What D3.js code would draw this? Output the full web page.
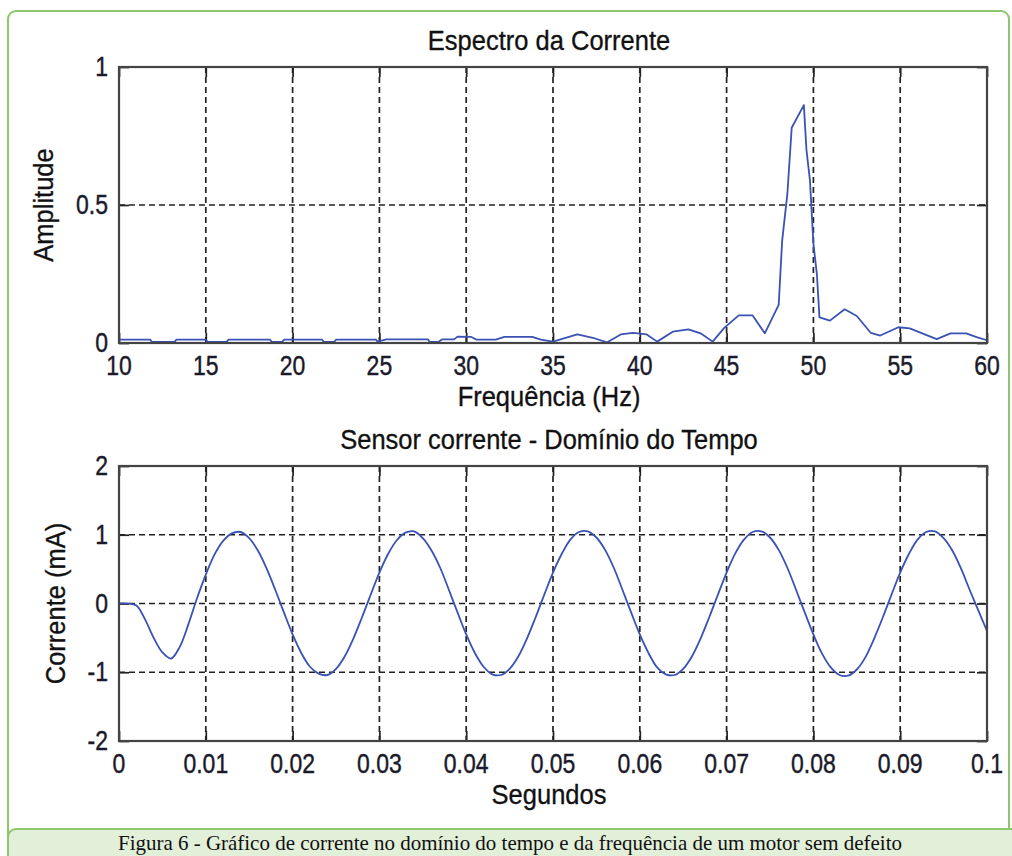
<!DOCTYPE html>
<html lang="pt">
<head>
<meta charset="utf-8">
<title>Espectro da Corrente</title>
<script src="https://cdnjs.cloudflare.com/ajax/libs/d3/7.8.5/d3.min.js"></script>
<style>
  html, body { margin: 0; padding: 0; background: #fff; }
  svg { display: block; }
  .tick-label { font-family: "Liberation Sans", Arial, sans-serif; font-size: 23px; fill: #1a1a2a; stroke: #1a1a2a; stroke-width: 0.35; }
  .lbl { font-family: "Liberation Sans", Arial, sans-serif; font-size: 25.5px; fill: #111; stroke: #111; stroke-width: 0.3; }
  .caption { font-family: "Liberation Serif", "Times New Roman", serif; font-size: 22px; fill: #111; }
  .grid line { stroke: #222; stroke-width: 1.7; stroke-dasharray: 6,4; }
</style>
</head>
<body>
<div id="chart"></div>
<script>
// --- spectrum (top) ---
const specFreq = [10, 10.2, 11.8, 11.9, 13.2, 13.3, 15.0, 15.1, 16.2, 16.3, 18.7, 18.8, 19.4, 19.5,
  21.7, 21.8, 22.4, 22.5, 24.8, 24.9, 25.4, 27.8, 27.9, 28.4, 28.6, 29.3, 29.5, 30.3, 30.6, 31.7,
  32.2, 33.8, 34.3, 35.0, 36.4, 37.3, 38.1, 38.9, 39.6, 40.4, 41.0, 41.9, 42.8, 43.5, 44.2, 44.85,
  45.7, 46.5, 47.2, 48.0, 48.2, 48.5, 48.75, 49.45, 49.6, 49.8, 50.0, 50.2, 50.35, 50.95, 51.8,
  52.5, 53.3, 53.85, 54.9, 55.55, 57.1, 57.9, 58.8, 59.4, 60];
const specAmp = [0.012, 0.012, 0.012, 0.004, 0.004, 0.012, 0.012, 0.004, 0.004, 0.012, 0.012, 0.004, 0.004, 0.012,
  0.012, 0.004, 0.004, 0.012, 0.012, 0.005, 0.013, 0.013, 0.004, 0.004, 0.013, 0.013, 0.023, 0.022, 0.012, 0.012,
  0.022, 0.022, 0.012, 0.005, 0.031, 0.019, 0.002, 0.031, 0.037, 0.031, 0.005, 0.041, 0.049, 0.035, 0.005, 0.054,
  0.10, 0.10, 0.035, 0.138, 0.37, 0.54, 0.78, 0.862, 0.70, 0.59, 0.36, 0.25, 0.093, 0.081, 0.122,
  0.098, 0.037, 0.027, 0.057, 0.053, 0.014, 0.035, 0.035, 0.021, 0.01];
const freqTicks = [10, 15, 20, 25, 30, 35, 40, 45, 50, 55, 60];
const ampTicks = [0, 0.5, 1];
const ampTickLabels = ["0", "0.5", "1"];

// --- time domain (bottom), one sample per ms ---
const timeSec = d3.range(0, 101).map(i => i / 1000);
const currentMA = [
  0, 0, -0.03, -0.23, -0.50, -0.71, -0.80, -0.63, -0.30, 0.08,
  0.42, 0.71, 0.91, 1.02, 1.04, 0.95, 0.77, 0.51, 0.20, -0.13,
  -0.45, -0.72, -0.92, -1.02, -1.04, -0.95, -0.77, -0.51, -0.20, 0.13,
  0.45, 0.72, 0.92, 1.03, 1.05, 0.95, 0.77, 0.52, 0.20, -0.13,
  -0.45, -0.72, -0.92, -1.03, -1.04, -0.95, -0.77, -0.51, -0.20, 0.13,
  0.45, 0.72, 0.93, 1.04, 1.05, 0.96, 0.78, 0.52, 0.20, -0.13,
  -0.45, -0.72, -0.93, -1.03, -1.04, -0.95, -0.77, -0.51, -0.20, 0.13,
  0.45, 0.73, 0.93, 1.04, 1.05, 0.96, 0.78, 0.52, 0.20, -0.13,
  -0.45, -0.73, -0.93, -1.04, -1.05, -0.96, -0.78, -0.51, -0.20, 0.13,
  0.45, 0.72, 0.93, 1.04, 1.05, 0.95, 0.77, 0.51, 0.20, -0.10,
  -0.40];
const timeTicks = [0, 0.01, 0.02, 0.03, 0.04, 0.05, 0.06, 0.07, 0.08, 0.09, 0.1];
const timeTickLabels = ["0", "0.01", "0.02", "0.03", "0.04", "0.05", "0.06", "0.07", "0.08", "0.09", "0.1"];
const curTicks = [-2, -1, 0, 1, 2];

const W = 1012, H = 856;
const green = "#8cc86b";

const svg = d3.select("#chart").append("svg")
  .attr("width", W).attr("height", H);

// outer frame
svg.append("rect")
  .attr("x", 8).attr("y", 11).attr("width", 1001).attr("height", 860)
  .attr("rx", 8)
  .attr("fill", "#fff").attr("stroke", green).attr("stroke-width", 2);

// caption box
svg.append("rect")
  .attr("x", 8).attr("y", 829).attr("width", 1020).attr("height", 40)
  .attr("rx", 8)
  .attr("fill", "#e2efd9").attr("stroke", green).attr("stroke-width", 2);

svg.append("text")
  .attr("class", "caption")
  .attr("x", 118).attr("y", 850)
  .attr("textLength", 784).attr("lengthAdjust", "spacingAndGlyphs")
  .text("Figura 6 - Gráfico de corrente no domínio do tempo e da frequência de um motor sem defeito");

// text with a slight vertical stretch, like the source image
function label(x, y, str, cls, anchor, sy, rot) {
  let tr = `translate(${x},${y})`;
  if (rot) tr += ` rotate(${rot})`;
  tr += ` scale(1,${sy})`;
  svg.append("text")
    .attr("class", cls)
    .attr("transform", tr)
    .attr("text-anchor", anchor)
    .text(str);
}

function panel(cfg) {
  const x = d3.scaleLinear().domain(cfg.xDomain).range([119, 987]);
  const y = d3.scaleLinear().domain(cfg.yDomain).range([cfg.bottom, cfg.top]);
  const g = svg.append("g");

  // grid (interior ticks only)
  const grid = g.append("g").attr("class", "grid");
  grid.selectAll("line.v")
    .data(cfg.xTicks.slice(1, -1)).enter().append("line")
    .attr("x1", d => x(d)).attr("x2", d => x(d))
    .attr("y1", cfg.top).attr("y2", cfg.bottom);
  grid.selectAll("line.h")
    .data(cfg.yTicks.slice(1, -1)).enter().append("line")
    .attr("class", "h")
    .attr("x1", 119).attr("x2", 987)
    .attr("y1", d => y(d)).attr("y2", d => y(d));

  // inward tick marks on all sides
  const tk = 10;
  const axes = [
    [d3.axisBottom(x).tickValues(cfg.xTicks).tickSize(-tk), `translate(0,${cfg.bottom})`],
    [d3.axisTop(x).tickValues(cfg.xTicks).tickSize(-tk), `translate(0,${cfg.top})`],
    [d3.axisLeft(y).tickValues(cfg.yTicks).tickSize(-tk), `translate(119,0)`],
    [d3.axisRight(y).tickValues(cfg.yTicks).tickSize(-tk), `translate(987,0)`]
  ];
  axes.forEach(([ax, tr]) => {
    const a = g.append("g").attr("transform", tr).call(ax.tickFormat(""));
    a.select(".domain").remove();
    a.selectAll("line").attr("stroke", "#222").attr("stroke-width", 1.7);
  });

  // data line
  const line = d3.line().x(d => x(d[0])).y(d => y(d[1])).curve(cfg.curve);
  g.append("path")
    .datum(d3.zip(cfg.xs, cfg.ys))
    .attr("d", line)
    .attr("fill", "none")
    .attr("stroke", "#3a52b4")
    .attr("stroke-width", 1.8)
    .attr("stroke-linejoin", "round");

  // box
  g.append("rect")
    .attr("x", 119).attr("y", cfg.top)
    .attr("width", 868).attr("height", cfg.bottom - cfg.top)
    .attr("fill", "none").attr("stroke", "#444").attr("stroke-width", 2.2);

  // tick labels
  cfg.xTicks.forEach((t, i) => label(x(t), cfg.bottom + 32, cfg.xLabels[i], "tick-label", "middle", 1.2));
  cfg.yTicks.forEach((t, i) => label(108, y(t) + 9, cfg.yLabels[i], "tick-label", "end", 1.2));

  // titles
  label(549, cfg.top - 17, cfg.title, "lbl", "middle", 1.1);
  label(549, cfg.bottom + 63, cfg.xTitle, "lbl", "middle", 1.1);
  label(cfg.yTitleX, (cfg.top + cfg.bottom) / 2, cfg.yTitle, "lbl", "middle", 1.1, -90);
}

panel({
  xDomain: [10, 60], yDomain: [0, 1], top: 67, bottom: 343,
  xTicks: freqTicks, xLabels: freqTicks.map(String),
  yTicks: ampTicks, yLabels: ampTickLabels,
  xs: specFreq, ys: specAmp, curve: d3.curveLinear,
  title: "Espectro da Corrente", xTitle: "Frequência (Hz)",
  yTitle: "Amplitude", yTitleX: 53
});

panel({
  xDomain: [0, 0.1], yDomain: [-2, 2], top: 466, bottom: 741,
  xTicks: timeTicks, xLabels: timeTickLabels,
  yTicks: curTicks, yLabels: curTicks.map(String),
  xs: timeSec, ys: currentMA, curve: d3.curveCatmullRom,
  title: "Sensor corrente - Domínio do Tempo", xTitle: "Segundos",
  yTitle: "Corrente (mA)", yTitleX: 65
});
</script>
</body>
</html>
